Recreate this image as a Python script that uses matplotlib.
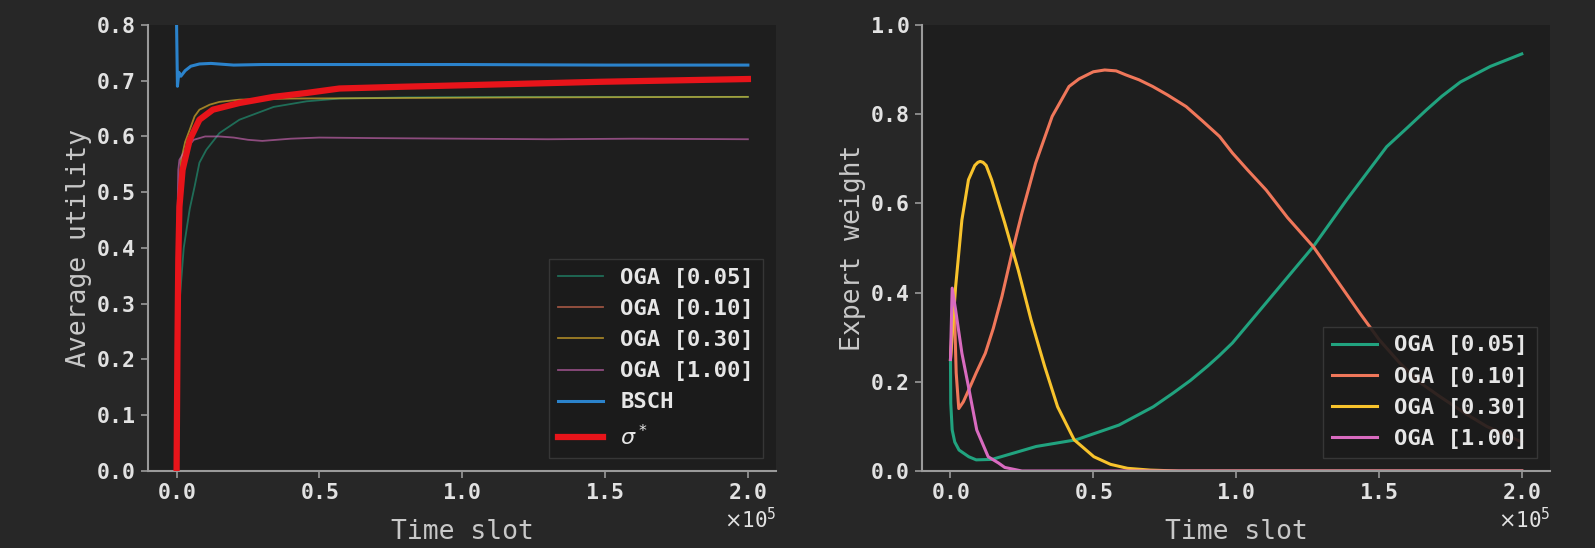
import matplotlib
matplotlib.use("Agg")
import matplotlib.pyplot as plt
from matplotlib.ticker import MultipleLocator

plt.rcParams['font.family'] = ['DejaVu Sans Mono', 'DejaVu Sans']
plt.rcParams['mathtext.fontset'] = 'dejavusans'

# ---- left panel: average utility ----
labels = ['OGA [0.05]', 'OGA [0.10]', 'OGA [0.30]', 'OGA [1.00]']
colors = ['#21a37f', '#f0775a', '#f8c32c', '#d96bc0']

t_u05 = [0, 200, 1000, 2500, 4600, 6300, 8000, 10400, 15000, 22000, 34000, 45500, 57000, 80000, 120000, 160000, 200000]
u05 = [0.0, 0.10, 0.30, 0.40, 0.47, 0.51, 0.553, 0.576, 0.606, 0.63, 0.653, 0.663, 0.668, 0.670, 0.671, 0.671, 0.671]

t_u10 = [0, 300, 1000, 2100, 4600, 8000, 12700, 22000, 34000, 57000, 100000, 150000, 200000]
u10 = [0.0, 0.25, 0.46, 0.53, 0.59, 0.628, 0.646, 0.659, 0.67, 0.686, 0.692, 0.698, 0.702]

t_u30 = [0, 300, 800, 1600, 3000, 4600, 6300, 8000, 11600, 15000, 22000, 40000, 80000, 120000, 200000]
u30 = [0.0, 0.30, 0.48, 0.558, 0.59, 0.612, 0.636, 0.648, 0.657, 0.662, 0.666, 0.668, 0.669, 0.670, 0.671]

t_u100 = [0, 300, 600, 1000, 3000, 6000, 10000, 15000, 20000, 25000, 30000, 40000, 50000, 70000, 100000, 130000, 160000, 200000]
u100 = [0.0, 0.45, 0.54, 0.558, 0.575, 0.594, 0.600, 0.600, 0.598, 0.594, 0.592, 0.596, 0.598, 0.597, 0.596, 0.595, 0.596, 0.595]

t_bsch = [0, 300, 800, 1500, 3000, 5000, 8000, 12000, 20000, 30000, 50000, 100000, 150000, 200000]
bsch = [0.80, 0.69, 0.715, 0.708, 0.718, 0.726, 0.730, 0.731, 0.728, 0.729, 0.729, 0.729, 0.728, 0.728]

t_sigma = [0, 300, 600, 1000, 2100, 4600, 8000, 12700, 22000, 34000, 45500, 57000, 78000, 102000, 148000, 200000]
sigma = [0.0, 0.22, 0.38, 0.474, 0.54, 0.594, 0.63, 0.648, 0.66, 0.671, 0.678, 0.686, 0.689, 0.692, 0.698, 0.703]

# ---- right panel: expert weights ----
t_w05 = [0, 100, 600, 1500, 3000, 6400, 9000, 14500, 22000, 30000, 44000, 59000, 71000, 78000, 84000, 90000, 94000, 98700,
         110500, 127000, 138700, 152700, 160000, 166700, 172000, 178500, 189000, 200000]
w05 = [0.25, 0.152, 0.092, 0.065, 0.047, 0.032, 0.025, 0.026, 0.04, 0.055, 0.07, 0.103, 0.144, 0.175, 0.203, 0.235, 0.258, 0.287,
       0.377, 0.503, 0.608, 0.727, 0.77, 0.81, 0.84, 0.872, 0.907, 0.935]

t_w10 = [0, 600, 1200, 2000, 2900, 4500, 6400, 9000, 12200, 15000, 18000, 21500, 25000, 29800, 35600, 41500, 45000,
         50000, 54000, 58000, 61400, 66000, 70800, 76000, 82500, 88000, 94200, 98700, 104000, 110500, 118000, 127000,
         135000, 143300, 150000, 157300, 164000, 171300, 180000, 187700, 200000]
w10 = [0.25, 0.33, 0.40, 0.22, 0.14, 0.155, 0.182, 0.22, 0.264, 0.32, 0.391, 0.488, 0.578, 0.69, 0.795, 0.862, 0.879,
       0.895, 0.899, 0.897, 0.888, 0.877, 0.862, 0.843, 0.817, 0.786, 0.75, 0.713, 0.675, 0.63, 0.568, 0.503,
       0.43, 0.354, 0.295, 0.242, 0.2, 0.167, 0.13, 0.10, 0.065]

t_w30 = [0, 1800, 4000, 6300, 8500, 9600, 10400, 11400, 12500, 14400, 19000, 23700, 28200, 33000, 37500, 43300, 50200,
         56000, 62000, 70000, 80000, 200000]
w30 = [0.25, 0.413, 0.563, 0.653, 0.685, 0.692, 0.694, 0.692, 0.685, 0.653, 0.556, 0.451, 0.339, 0.234, 0.144, 0.07, 0.032,
       0.015, 0.006, 0.002, 0.0, 0.0]

t_w100 = [0, 600, 1800, 4000, 6300, 9200, 13200, 16800, 19000, 25000, 200000]
w100 = [0.25, 0.41, 0.361, 0.264, 0.189, 0.092, 0.032, 0.018, 0.008, 0.0, 0.0]

fig_bg = '#272727'
ax_bg = '#1e1e1e'
spine_c = '#9a9a9a'
tick_c = '#e2e2e2'
label_c = '#c8c8c8'

fig = plt.figure(figsize=(15.95, 5.48), dpi=100, facecolor=fig_bg)
ax1 = fig.add_axes([0.0928, 0.1405, 0.394, 0.814])
ax2 = fig.add_axes([0.578, 0.1405, 0.394, 0.814])


def style(ax):
    ax.set_facecolor(ax_bg)
    for s in ['top', 'right']:
        ax.spines[s].set_visible(False)
    for s in ['left', 'bottom']:
        ax.spines[s].set_color(spine_c)
        ax.spines[s].set_linewidth(1.5)
    ax.xaxis.set_major_locator(MultipleLocator(50000))
    ax.tick_params(colors=spine_c, length=5, width=1.2, labelsize=15.5, labelcolor=tick_c)
    ax.ticklabel_format(style='sci', axis='x', scilimits=(0, 0), useMathText=True)
    ax.xaxis.get_offset_text().set_fontsize(15)
    ax.xaxis.get_offset_text().set_color(tick_c)
    ax.set_xlabel('Time slot', fontsize=19, color=label_c, labelpad=12)


# left panel
series_u = [(t_u05, u05), (t_u10, u10), (t_u30, u30), (t_u100, u100)]
for (t, u), c, lab in zip(series_u, colors, labels):
    ax1.plot(t, u, color=c, lw=1.3, alpha=0.6, label=lab)
ax1.plot(t_bsch, bsch, color='#2b83cc', lw=2.2, label='BSCH')
ax1.plot(t_sigma, sigma, color='#e8141a', lw=4.5, label=r'$\sigma^*$', zorder=5)
ax1.set_ylim(0, 0.8)
ax1.set_xlim(-10000, 210000)
ax1.set_ylabel('Average utility', fontsize=19, color=label_c)
style(ax1)

# right panel
series_w = [(t_w05, w05), (t_w10, w10), (t_w30, w30), (t_w100, w100)]
for (t, w), c, lab in zip(series_w, colors, labels):
    ax2.plot(t, w, color=c, lw=2.2, label=lab)
ax2.set_ylim(0, 1.0)
ax2.set_xlim(-10000, 210000)
ax2.set_ylabel('Expert weight', fontsize=19, color=label_c)
style(ax2)

for ax in (ax1, ax2):
    for lab in ax.get_xticklabels() + ax.get_yticklabels():
        lab.set_fontweight('bold')
    leg = ax.legend(loc='lower right', fontsize=16, frameon=True, facecolor='#1b1b1b',
                    edgecolor='#3a3a3a', framealpha=0.9, fancybox=False, borderaxespad=0.6)
    for txt in leg.get_texts():
        txt.set_color('#e6e6e6')
        txt.set_fontweight('bold')

fig.savefig('out.png', dpi=100, facecolor=fig_bg)
